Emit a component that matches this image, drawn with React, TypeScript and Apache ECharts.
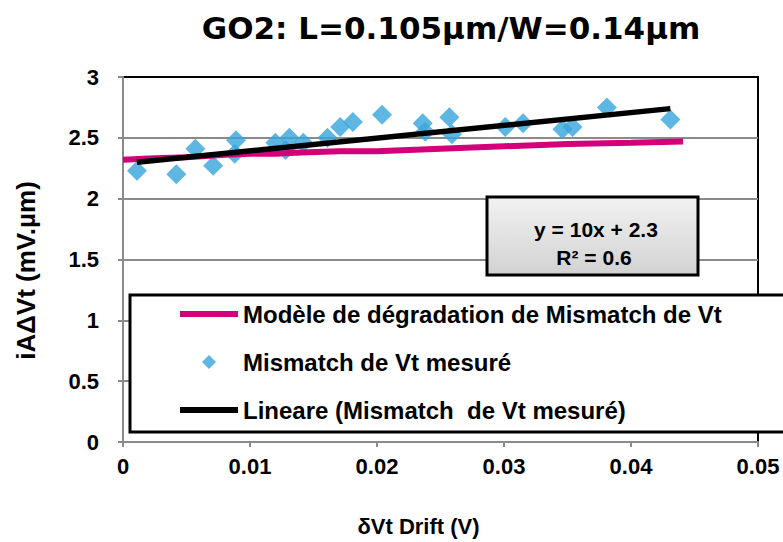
import React, { useEffect, useRef } from "react";
import * as echarts from "echarts";

const chartTitle = "GO2: L=0.105µm/W=0.14µm";
const xAxisTitle = "δVt Drift (V)";
const yAxisTitle = "iAΔVt (mV.µm)";
const modelName = "Modèle de dégradation de Mismatch de Vt";
const measuredName = "Mismatch de Vt mesuré";
const trendName = "Lineare (Mismatch  de Vt mesuré)";
const equationLines = ["y = 10x + 2.3", "R² = 0.6"];

// Model curve (pink)
const modelX = [0, 0.002, 0.005, 0.008, 0.01, 0.012, 0.014, 0.017, 0.02, 0.025, 0.03, 0.035, 0.04, 0.0441];
const modelY = [2.32, 2.33, 2.34, 2.36, 2.37, 2.37, 2.38, 2.39, 2.39, 2.41, 2.43, 2.45, 2.46, 2.47];

// Measured mismatch (diamonds)
const measuredX = [
  0.0011, 0.0042, 0.0057, 0.0071, 0.0088, 0.0089, 0.012, 0.0128, 0.0131, 0.0142, 0.0161, 0.0171,
  0.0181, 0.0204, 0.0236, 0.0238, 0.0257, 0.0259, 0.0301, 0.0315, 0.0346, 0.0354, 0.0381, 0.0431,
];
const measuredY = [
  2.23, 2.2, 2.41, 2.27, 2.37, 2.48, 2.46, 2.4, 2.5, 2.46, 2.5, 2.59,
  2.63, 2.69, 2.62, 2.55, 2.67, 2.53, 2.59, 2.62, 2.57, 2.59, 2.75, 2.65,
];

// Linear trendline endpoints (black)
const trendX = [0.0011, 0.0431];
const trendY = [2.3, 2.74];

const xMin = 0;
const xMax = 0.05;
const xStep = 0.01;
const yMin = 0;
const yMax = 3;
const yStep = 0.5;

const FONT = "'Liberation Sans', Arial, Helvetica, sans-serif";

export default function App() {
  const ref = useRef<HTMLDivElement>(null);

  useEffect(() => {
    if (!ref.current) return;
    const chart = echarts.init(ref.current, null, { renderer: "svg" });
    const pair = (xs: number[], ys: number[]) => xs.map((x, i) => [x, ys[i]]);
    const lineIcon = "path://M0,0H58V6H0Z";
    const diamondIcon = "path://M7,0L14,7L7,14L0,7Z";

    chart.setOption({
      animation: false,
      backgroundColor: "#ffffff",
      title: {
        text: chartTitle,
        left: 451,
        top: 12,
        textAlign: "center",
        padding: 0,
        textStyle: {
          fontFamily: "'DejaVu Sans', " + FONT,
          fontSize: 31,
          fontWeight: "bold",
          color: "#000",
        },
      },
      grid: {
        left: 123,
        right: 25,
        top: 77,
        bottom: 99,
        show: true,
        borderColor: "#000",
        borderWidth: 2,
        backgroundColor: "transparent",
      },
      xAxis: {
        type: "value",
        min: xMin,
        max: xMax,
        interval: xStep,
        name: xAxisTitle,
        nameLocation: "middle",
        nameGap: 73,
        nameTextStyle: {
          fontFamily: FONT,
          fontSize: 22,
          fontWeight: "bold",
          color: "#000",
          padding: [0, 44, 0, 0],
        },
        axisLine: { show: true, onZero: false, lineStyle: { color: "#8a8a8a", width: 2 } },
        axisTick: { show: true, length: 5, lineStyle: { color: "#8a8a8a", width: 2 } },
        axisLabel: {
          fontFamily: FONT,
          fontSize: 22,
          fontWeight: "bold",
          color: "#000",
          margin: 13,
        },
        splitLine: { show: false },
      },
      yAxis: {
        type: "value",
        min: yMin,
        max: yMax,
        interval: yStep,
        name: yAxisTitle,
        nameLocation: "middle",
        nameRotate: 90,
        nameGap: 84,
        nameTextStyle: {
          fontFamily: FONT,
          fontSize: 26,
          fontWeight: "bold",
          color: "#000",
          padding: [0, 22, 0, 0],
        },
        axisLine: { show: true, onZero: false, lineStyle: { color: "#8a8a8a", width: 2 } },
        axisTick: { show: true, length: 5, lineStyle: { color: "#8a8a8a", width: 2 } },
        axisLabel: {
          fontFamily: FONT,
          fontSize: 22,
          fontWeight: "bold",
          color: "#000",
          margin: 24,
        },
        splitLine: {
          show: true,
          showMinLine: false,
          showMaxLine: false,
          lineStyle: { color: "#8a8a8a", width: 2 },
        },
      },
      legend: {
        orient: "vertical",
        left: 180,
        top: 302,
        padding: 0,
        itemWidth: 58,
        itemHeight: 14,
        itemGap: 24,
        selectedMode: false,
        z: 110,
        data: [
          { name: modelName, icon: lineIcon },
          { name: measuredName, icon: diamondIcon },
          { name: trendName, icon: lineIcon },
        ],
        textStyle: {
          fontFamily: FONT,
          fontSize: 24,
          fontWeight: "bold",
          color: "#000",
          lineHeight: 24,
        },
      },
      graphic: [
        {
          type: "rect",
          z: 100,
          shape: { x: 130, y: 295, width: 720, height: 137 },
          style: { fill: "#ffffff", stroke: "#000", lineWidth: 3 },
        },
        {
          type: "rect",
          z: 100,
          shape: { x: 487, y: 197, width: 211, height: 78 },
          style: {
            fill: new echarts.graphic.LinearGradient(0, 0, 0, 1, [
              { offset: 0, color: "#f2f2f2" },
              { offset: 1, color: "#d2d2d2" },
            ]),
            stroke: "#000",
            lineWidth: 3,
          },
        },
        {
          type: "text",
          z: 101,
          x: 596,
          y: 229,
          style: {
            text: equationLines[0],
            font: "bold 21px " + FONT,
            fill: "#000",
            textAlign: "center",
            textVerticalAlign: "middle",
            align: "center",
            verticalAlign: "middle",
          },
        },
        {
          type: "text",
          z: 101,
          x: 594,
          y: 257,
          style: {
            text: equationLines[1],
            font: "bold 21px " + FONT,
            fill: "#000",
            textAlign: "center",
            textVerticalAlign: "middle",
            align: "center",
            verticalAlign: "middle",
          },
        },
      ],
      series: [
        {
          name: measuredName,
          type: "scatter",
          symbol: "diamond",
          symbolSize: 20,
          z: 2,
          itemStyle: { color: "#36a5db" },
          data: pair(measuredX, measuredY),
        },
        {
          name: modelName,
          type: "line",
          symbol: "none",
          z: 3,
          lineStyle: { color: "#d3007a", width: 6 },
          itemStyle: { color: "#d3007a" },
          data: pair(modelX, modelY),
        },
        {
          name: trendName,
          type: "line",
          symbol: "none",
          z: 4,
          lineStyle: { color: "#000", width: 5.5 },
          itemStyle: { color: "#000" },
          data: pair(trendX, trendY),
        },
      ],
    });

    return () => chart.dispose();
  }, []);

  return (
    <div
      ref={ref}
      style={{ position: "absolute", left: 0, top: 0, width: 783, height: 542, background: "#fff" }}
    />
  );
}
